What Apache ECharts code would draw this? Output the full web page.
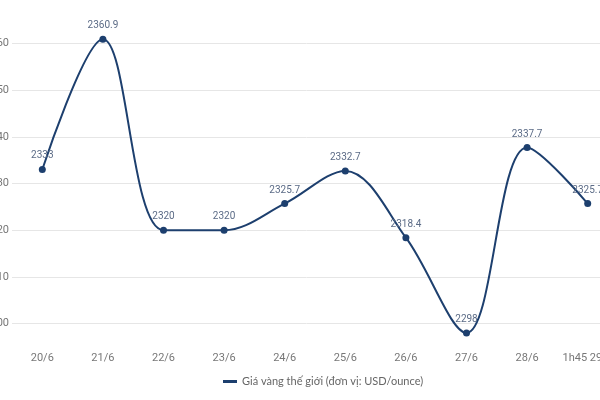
<!DOCTYPE html>
<html>
<head>
<meta charset="utf-8">
<script src="https://cdn.jsdelivr.net/npm/echarts@6/dist/echarts.min.js"></script>
<style>html,body{margin:0;padding:0;background:#fff}#c{width:600px;height:400px}</style>
</head>
<body>
<div id="c"></div>
<script>
const categories = ['20/6', '21/6', '22/6', '23/6', '24/6', '25/6', '26/6', '27/6', '28/6', '1h45 29/6'];
const prices = [2333, 2360.9, 2320, 2320, 2325.7, 2332.7, 2318.4, 2298, 2337.7, 2325.7];
const seriesName = 'Giá vàng thế giới (đơn vị: USD/ounce)';

const chart = echarts.init(document.getElementById('c'));
chart.setOption({
  animation: false,
  backgroundColor: '#fff',
  textStyle: { fontFamily: 'Roboto, sans-serif' },
  grid: { left: 12, width: 606, top: 20, height: 327, containLabel: false, outerBoundsMode: 'none' },
  legend: {
    bottom: 8,
    left: 218,
    icon: 'rect',
    itemWidth: 14,
    itemHeight: 3,
    itemGap: 10,
    textStyle: { color: '#666', fontSize: 11, fontFamily: 'Lato, sans-serif' },
    data: [seriesName]
  },
  xAxis: {
    type: 'category',
    data: categories,
    boundaryGap: true,
    axisLine: { show: false },
    axisTick: { show: false },
    axisLabel: { color: '#777', fontSize: 11, margin: 6, interval: 0 }
  },
  yAxis: {
    type: 'value',
    min: 2295,
    max: 2365,
    interval: 5,
    axisLine: { show: false },
    axisTick: { show: false },
    axisLabel: {
      color: '#777', fontSize: 11, margin: 3,
      formatter: v => (v % 10 === 0 && v >= 2300 && v <= 2360) ? String(v) : ''
    },
    splitLine: { lineStyle: { color: ['transparent', '#e6e6e6'], width: 1 } }
  },
  series: [{
    name: seriesName,
    type: 'line',
    data: prices,
    smooth: 0.35,
    symbol: 'circle',
    symbolSize: 7,
    lineStyle: { color: '#1d3f6e', width: 2 },
    itemStyle: { color: '#1d3f6e' },
    label: {
      show: true,
      position: 'top',
      distance: 5,
      color: '#5b6b86',
      fontSize: 10,
      formatter: p => String(p.value)
    }
  }]
});
</script>
</body>
</html>
